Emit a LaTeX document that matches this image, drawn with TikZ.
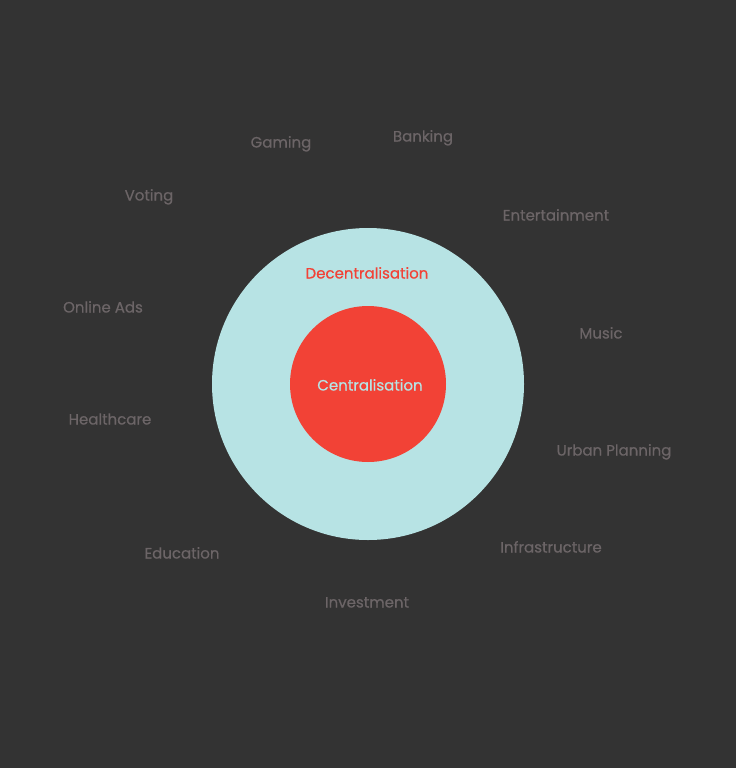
\documentclass[tikz,border=0pt]{standalone}
\usepackage{fontspec}
\setmainfont{Poppins}[FakeBold=0.6]
\definecolor{bg}{HTML}{333333}
\definecolor{cyanlt}{HTML}{B7E3E4}
\definecolor{redc}{HTML}{F24236}
\definecolor{lbl}{HTML}{6C6567}
\begin{document}
\begin{tikzpicture}[x=1pt,y=-1pt,
  txt/.style={font=\fontsize{15}{17}\selectfont,inner sep=0pt,anchor=base},
  lab/.style={txt,text=lbl}]
\fill[bg] (0,0) rectangle (736,768);
\useasboundingbox (0,0) rectangle (736,768);
\node[circle,fill=cyanlt,minimum size=312pt,inner sep=0pt] (outer) at (368,384) {};
\node[circle,fill=redc,minimum size=156pt,inner sep=0pt] (inner) at (368,384) {};
\node[txt,text=redc] (dec) at (367,278.5) {Decentralisation};
\node[txt,text=cyanlt] (cen) at (370,390.5) {Centralisation};
\node[lab] (gaming) at (281,147.5) {Gaming};
\node[lab] (banking) at (423,141.5) {Banking};
\node[lab] (voting) at (149,200.5) {Voting};
\node[lab] (ent) at (556,220.5) {Entertainment};
\node[lab] (ads) at (103,312.5) {Online Ads};
\node[lab] (music) at (601,338.5) {Music};
\node[lab] (health) at (110,424.5) {Healthcare};
\node[lab] (urban) at (614,455.5) {Urban Planning};
\node[lab] (edu) at (182,558.5) {Education};
\node[lab] (infra) at (551,552.5) {Infrastructure};
\node[lab] (invest) at (367,607.5) {Investment};
\end{tikzpicture}
\end{document}
